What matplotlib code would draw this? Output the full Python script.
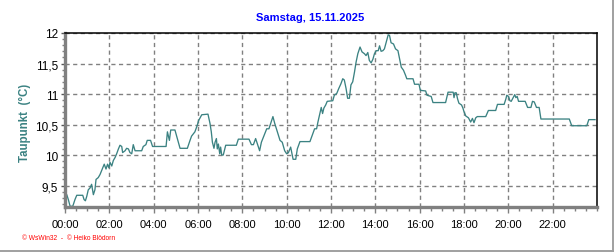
import matplotlib
matplotlib.use('Agg')
import matplotlib.pyplot as plt
from matplotlib.ticker import MultipleLocator, FuncFormatter
from matplotlib.lines import Line2D
import numpy as np

TEAL = '#3B8282'; BLUE = '#0000FF'; RED = '#FF0000'
GRID = '#808080'; SPINE = '#808080'

plt.rcParams['font.family'] = ['Liberation Sans', 'DejaVu Sans']

# dew point over the day, hour of day -> deg C
hours = [
    0.00, 0.08, 0.15, 0.23, 0.35, 0.45,  0.53, 0.80, 0.86, 0.92, 0.98, 1.05,
    1.13, 1.20, 1.28, 1.35, 1.40, 1.50,  1.58, 1.70, 1.77, 1.85, 1.92, 1.98,
    2.03, 2.11, 2.18, 2.26, 2.33, 2.41,  2.48, 2.56, 2.60, 2.71, 2.78, 2.86,
    2.93, 3.01, 3.08, 3.16, 3.46, 3.53,  3.65, 3.71, 3.86, 3.95, 4.56, 4.62,
    4.66, 4.71, 4.77, 4.96, 5.19, 5.52,  5.64, 5.71, 5.86, 5.97, 6.02, 6.17,
    6.45, 6.54, 6.60, 6.65, 6.72, 6.77,  6.83, 6.87, 6.92, 6.98, 7.02, 7.07,
    7.14, 7.25, 7.73, 7.82, 8.30, 8.41,  8.50, 8.60, 8.68, 8.78, 8.86, 8.98,
    9.10, 9.20, 9.28, 9.38, 9.46, 9.58,  9.70, 9.80, 9.91, 10.00, 10.08, 10.18,
    10.29, 10.41, 10.48, 10.60, 11.05, 11.16,  11.26, 11.35, 11.41, 11.50, 11.56, 11.62,
    11.68, 11.76, 11.83,
    12.08, 12.15, 12.26, 12.35, 12.45, 12.53,  12.60, 12.68, 12.75, 12.83, 12.90, 12.98,
    13.06, 13.13, 13.21, 13.31, 13.40, 13.51,  13.58, 13.66, 13.73, 13.81, 13.89, 13.96,
    14.04, 14.13, 14.19, 14.26, 14.34, 14.41,  14.49, 14.58, 14.64, 14.71, 14.82, 14.91,
    15.02, 15.09, 15.17, 15.27, 15.36, 15.42,  15.70, 15.77, 15.97, 16.03, 16.27, 16.33,
    16.52, 16.60, 17.17, 17.28, 17.51,
    17.55, 17.59, 17.65, 17.71, 17.77, 17.89,  17.95, 18.00, 18.08, 18.20, 18.30, 18.38,
    18.45, 18.53, 18.60, 18.98, 19.10, 19.43,  19.51, 19.81, 19.89, 19.93, 20.01, 20.07,
    20.13, 20.22, 20.29, 20.34, 20.40, 20.46,  20.76, 20.87, 21.02, 21.09, 21.17, 21.27,
    21.39, 21.47, 22.75, 22.86, 23.54, 23.63,  23.91,
]
dewpoint = [
    9.27, 9.35, 9.27, 9.16, 9.16, 9.27,  9.34, 9.34, 9.27, 9.25, 9.32, 9.43,
    9.46, 9.52, 9.35, 9.43, 9.60, 9.63,  9.68, 9.79, 9.85, 9.77, 9.85, 9.79,
    9.88, 9.82, 9.91, 9.96, 10.02, 10.10,  10.16, 10.14, 10.04, 10.07, 10.11, 10.10,
    10.04, 10.02, 10.17, 10.07, 10.07, 10.14,  10.17, 10.24, 10.24, 10.14, 10.14, 10.38,
    10.32, 10.24, 10.41, 10.41, 10.11, 10.11,  10.24, 10.31, 10.38, 10.49, 10.56, 10.66,
    10.67, 10.52, 10.38, 10.21, 10.11, 10.21,  10.27, 10.10, 10.18, 10.02, 10.13, 10.00,
    10.00, 10.16, 10.16, 10.26, 10.26, 10.17,  10.17, 10.27, 10.18, 10.07, 10.21, 10.32,
    10.43, 10.43, 10.52, 10.63, 10.52, 10.38,  10.24, 10.21, 10.07, 10.02, 10.04, 10.13,
    9.93, 9.93, 10.10, 10.22, 10.22, 10.33,  10.43, 10.43, 10.54, 10.68, 10.78, 10.68,
    10.77, 10.82, 10.88,
    10.89, 10.98, 11.01, 11.09, 11.17, 11.25,  11.23, 11.09, 10.93, 10.93, 11.15, 11.20,
    11.36, 11.52, 11.66, 11.77, 11.69, 11.66,  11.63, 11.68, 11.55, 11.51, 11.57, 11.66,
    11.71, 11.71, 11.79, 11.70, 11.71, 11.74,  11.85, 11.97, 11.96, 11.84, 11.82, 11.74,
    11.71, 11.58, 11.44, 11.39, 11.31, 11.25,  11.25, 11.16, 11.16, 11.06, 11.05, 10.98,
    10.96, 10.86, 10.86, 11.03, 11.03,
    10.94, 11.02, 11.02, 10.92, 10.85, 10.82,  10.77, 10.71, 10.64, 10.61, 10.54, 10.60,
    10.53, 10.61, 10.63, 10.63, 10.73, 10.73,  10.83, 10.83, 10.92, 10.98, 10.96, 10.89,
    10.88, 10.94, 10.99, 10.94, 10.96, 10.88,  10.88, 10.78, 10.78, 10.88, 10.87, 10.78,
    10.78, 10.59, 10.59, 10.48, 10.48, 10.58,  10.58,
]

y_major = [9.5, 10.0, 10.5, 11.0, 11.5, 12.0]
x_major = np.arange(0, 24, 2)

fig = plt.figure(figsize=(6.16, 2.53), dpi=100, facecolor='white')
ax = fig.add_axes([65/616, 1-208/253, 532/616, 174/253])

ax.plot(hours, dewpoint, color=TEAL, lw=0.95)

ax.set_xlim(0, 24)
ax.set_ylim(9.148, 12.0)
ax.set_xticks(x_major)
ax.set_xticklabels([f'{h:02d}:00' for h in x_major], fontsize=8)
ax.xaxis.set_minor_locator(MultipleLocator(0.5))
ax.set_yticks(y_major)
ax.yaxis.set_major_formatter(FuncFormatter(lambda v, p: f'{v:g}'.replace('.', ',')))
ax.yaxis.set_minor_locator(MultipleLocator(0.1))
ax.tick_params(axis='y', labelsize=8.5, length=3, width=1, color='#555555', pad=2)
ax.tick_params(axis='y', which='minor', length=2, width=1, color='#808080')
ax.tick_params(axis='x', length=4, width=1, color='#808080', pad=5)
ax.tick_params(axis='x', which='minor', length=3, width=1, color='#808080')

ax.grid(True, which='major', color=GRID, ls=(0, (3, 2.5)), lw=1)
for s in ('left', 'bottom'):
    ax.spines[s].set_color(SPINE); ax.spines[s].set_linewidth(2.4)
for s in ('top', 'right'):
    ax.spines[s].set_color('black'); ax.spines[s].set_linewidth(1.1)

fig.text(310/616, 1-18/253, 'Samstag, 15.11.2025', color=BLUE, fontsize=8,
         fontweight='bold', ha='center', va='center')
fig.text(25/616, 1-123/253, 'Taupunkt  (°C)', color=TEAL, fontsize=8.3,
         fontweight='bold', rotation=90, ha='center', va='center')
fig.text(22/616, 1-239/253, '© WsWin32  -  © Heiko Blödorn', color=RED,
         fontsize=4.8, ha='left', va='center')

# outer frame lines at right and bottom
fig.add_artist(Line2D([0, 613/616], [1-251.5/253]*2, color='#A0A0A0', lw=1.4,
                      transform=fig.transFigure))
fig.add_artist(Line2D([613/616]*2, [1-251.5/253, 1], color='#A0A0A0', lw=1.4,
                      transform=fig.transFigure))

fig.savefig('out.png', dpi=100, facecolor='white')
